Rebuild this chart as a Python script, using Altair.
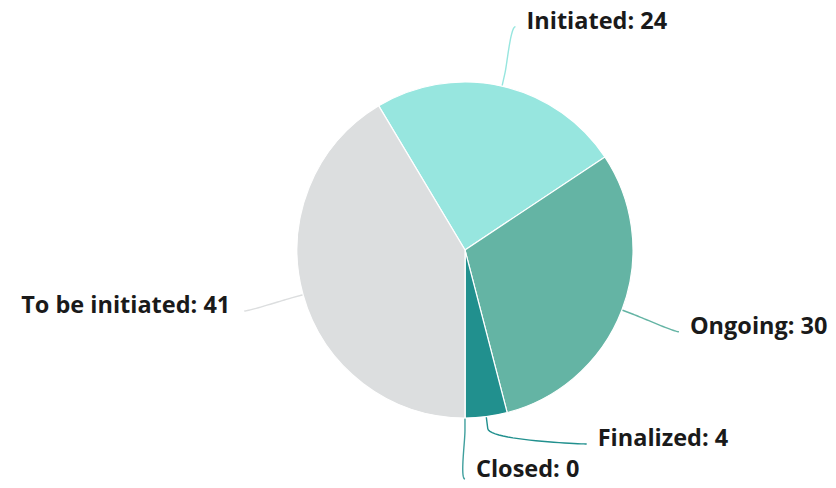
import math
import altair as alt
import pandas as pd

# ---- data ----
statuses = ["Initiated", "Ongoing", "Finalized", "Closed", "To be initiated"]
counts = [24, 30, 4, 0, 41]
colors = ["#97e6df", "#64b4a4", "#21908e", "#3f9f9d", "#dcdedf"]

# ---- layout ----
W, H = 820, 472
CX, CY = 457, 242
R_PIE = 168
R_LAB = 229
BREAK = 12
SPACING = 35
START_DEG = -30.9
FONT = "Open Sans"
FSIZE = 23.5
GAP = 11
TEXT_Y_MAX = H - 10

total = sum(counts)
start = math.radians(START_DEG)

df = pd.DataFrame({"status": statuses, "value": counts, "idx": range(len(counts))})

# label placement (Highcharts-like)
cum = 0.0
info = []
for s, v in zip(statuses, counts):
    mid = start + 2 * math.pi * (cum + v / 2) / total
    cum += v
    a = mid % (2 * math.pi)
    right = a <= math.pi + 0.01
    info.append(dict(status=s, ang=mid, right=right,
                     ly=CY - R_LAB * math.cos(mid),
                     lx=CX + R_LAB * math.sin(mid)))

for side in (True, False):
    items = sorted([d for d in info if d["right"] == side], key=lambda d: d["ly"])
    for i in range(len(items) - 2, -1, -1):
        new_y = min(items[i]["ly"], items[i + 1]["ly"] - SPACING)
        if new_y != items[i]["ly"]:
            items[i]["ly"] = new_y
            dy = new_y - CY
            dx = math.sqrt(max(R_LAB ** 2 - dy ** 2, 0))
            items[i]["lx"] = CX + dx if side else CX - dx

lab_rows, line_rows = [], []
for d in info:
    s, th, right = d["status"], d["ang"], d["right"]
    v = counts[statuses.index(s)]
    lx, ly = d["lx"], d["ly"]
    lab_rows.append(dict(status=s, text=f"{s}: {v}",
                         tx=lx + GAP if right else lx - GAP - 3,
                         ty=min(ly - 5, TEXT_Y_MAX),
                         align="left" if right else "right"))
    tx_, ty_ = CX + R_PIE * math.sin(th), CY - R_PIE * math.cos(th)
    bx, by = CX + (R_PIE + BREAK) * math.sin(th), CY - (R_PIE + BREAK) * math.cos(th)
    p0 = (lx, ly)
    p1 = (lx + (-5 if right else 5), ly)
    p2 = (2 * bx - tx_, 2 * by - ty_)
    p3 = (bx, by)
    n = 24
    k = 0
    for j in range(n + 1):
        t = j / n
        x = ((1 - t) ** 3 * p0[0] + 3 * (1 - t) ** 2 * t * p1[0]
             + 3 * (1 - t) * t ** 2 * p2[0] + t ** 3 * p3[0])
        y = ((1 - t) ** 3 * p0[1] + 3 * (1 - t) ** 2 * t * p1[1]
             + 3 * (1 - t) * t ** 2 * p2[1] + t ** 3 * p3[1])
        line_rows.append(dict(status=s, i=k, px=x, py=y))
        k += 1
    line_rows.append(dict(status=s, i=k, px=tx_, py=ty_))

labels = pd.DataFrame(lab_rows)
lines = pd.DataFrame(line_rows)

color_scale = alt.Scale(domain=statuses, range=colors)
xs = alt.Scale(domain=[0, W], nice=False, zero=False)
ys = alt.Scale(domain=[H, 0], nice=False, zero=False)

pie = alt.Chart(df).mark_arc(outerRadius=R_PIE, stroke="white", strokeWidth=1.2).encode(
    theta=alt.Theta("value:Q", stack=True,
                    scale=alt.Scale(range=[start, start + 2 * math.pi])),
    color=alt.Color("status:N", scale=color_scale, legend=None),
    order=alt.Order("idx:Q"),
    x=alt.value(CX), y=alt.value(CY),
)

conn = alt.Chart(lines).mark_line(strokeWidth=1.4).encode(
    x=alt.X("px:Q", scale=xs, axis=None),
    y=alt.Y("py:Q", scale=ys, axis=None),
    color=alt.Color("status:N", scale=color_scale, legend=None),
    detail="status:N",
    order=alt.Order("i:Q"),
)

text_left = alt.Chart(labels[labels["align"] == "left"]).mark_text(
    align="left", baseline="middle", font=FONT, fontSize=FSIZE, fontWeight="bold", color="#1a1a1a"
).encode(x=alt.X("tx:Q", scale=xs, axis=None), y=alt.Y("ty:Q", scale=ys, axis=None), text="text:N")

text_right = alt.Chart(labels[labels["align"] == "right"]).mark_text(
    align="right", baseline="middle", font=FONT, fontSize=FSIZE, fontWeight="bold", color="#1a1a1a"
).encode(x=alt.X("tx:Q", scale=xs, axis=None), y=alt.Y("ty:Q", scale=ys, axis=None), text="text:N")

chart = alt.layer(conn, pie, text_left, text_right).properties(
    width=W, height=H, padding=0, autosize=alt.AutoSizeParams(type="none")
).configure_view(stroke=None)

chart.save("out.html", embed_options={"renderer": "svg", "actions": False})
